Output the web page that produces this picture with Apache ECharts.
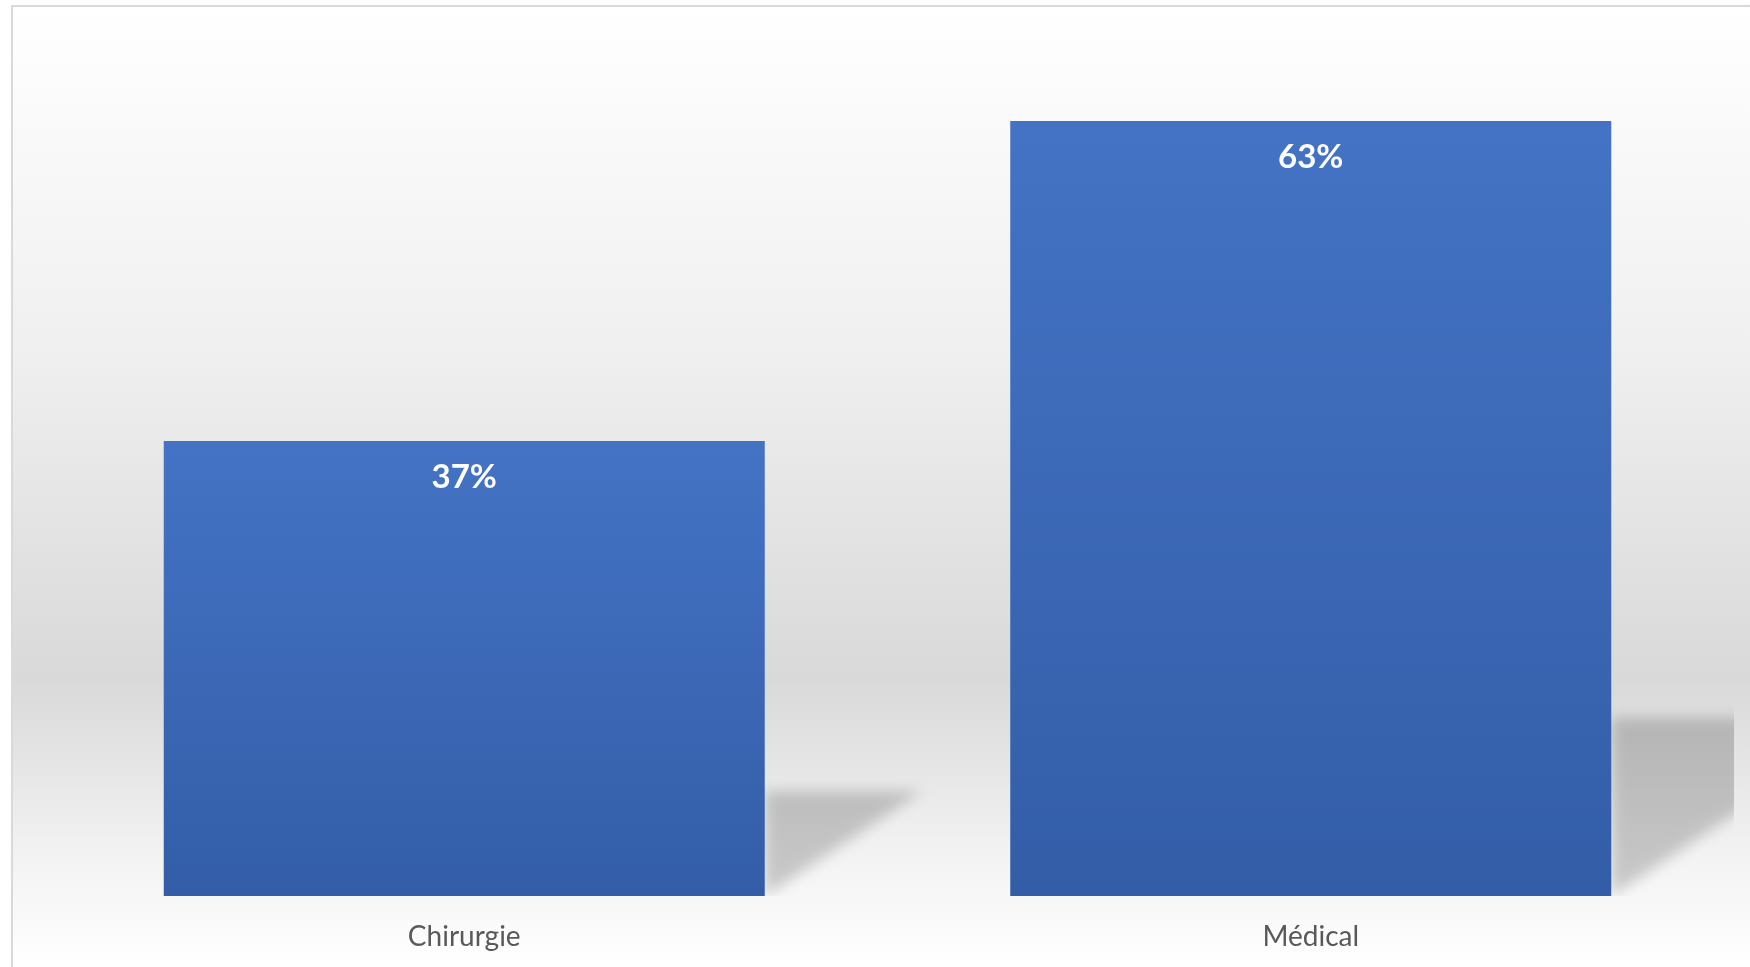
<!DOCTYPE html>
<html>
<head>
<meta charset="utf-8">
<script src="https://cdn.jsdelivr.net/npm/echarts@6/dist/echarts.min.js"></script>
<style>
  html, body { margin: 0; padding: 0; background: #fff; }
  #chart {
    position: absolute;
    left: 11px;
    top: 5px;
    width: 1737px;
    height: 960px;
    border-left: 2px solid #d9d9d9;
    border-top: 2px solid #d9d9d9;
  }
</style>
</head>
<body>
<div id="chart"></div>
<script>
// données
const categories = ['Chirurgie', 'Médical'];
const values = [37, 63];

const chart = echarts.init(document.getElementById('chart'));

const BAR_WIDTH = 0.71;   // part de la bande
const SHADOW_H = 0.23;    // hauteur de l'ombre / hauteur de la barre
const SHADOW_SLANT = 1.5; // pente de l'ombre

// ombre portée "au sol" derrière chaque barre
function renderShadow(params, api) {
  const idx = api.value(0);
  const base = api.coord([idx, 0]);
  const top = api.coord([idx, api.value(1)]);
  const half = api.size([1, 0])[0] * BAR_WIDTH / 2;
  const r = base[0] + half;
  const b = base[1];
  const s = (b - top[1]) * SHADOW_H;
  const off = 4000;
  return {
    type: 'polygon',
    shape: {
      points: [[r - off, b], [r - off, b - s], [r + SHADOW_SLANT * s - off, b - s]]
    },
    style: {
      fill: '#000',
      shadowColor: 'rgba(0,0,0,0.19)',
      shadowBlur: 14,
      shadowOffsetX: off
    }
  };
}

const option = {
  backgroundColor: new echarts.graphic.LinearGradient(0, 0, 0, 1, [
    { offset: 0, color: '#ffffff' },
    { offset: 0.35, color: '#f0f0f0' },
    { offset: 0.7, color: '#d9d9d9' },
    { offset: 0.88, color: '#f2f2f2' },
    { offset: 1, color: '#ffffff' }
  ]),
  animation: false,
  grid: {
    left: 28,
    right: 16,
    top: 28,
    bottom: 71
  },
  xAxis: {
    type: 'category',
    data: categories,
    axisLine: { show: false },
    axisTick: { show: false },
    axisLabel: {
      margin: 27,
      fontFamily: 'Lato',
      fontSize: 28,
      color: '#595959'
    }
  },
  yAxis: {
    type: 'value',
    min: 0,
    max: 70,
    show: false,
    splitLine: { show: false }
  },
  series: [
    {
      type: 'custom',
      renderItem: renderShadow,
      data: values.map((v, i) => [i, v]),
      z: 1,
      clip: true,
      silent: true
    },
    {
      type: 'bar',
      data: values,
      barWidth: (BAR_WIDTH * 100) + '%',
      z: 3,
      itemStyle: {
        color: new echarts.graphic.LinearGradient(0, 0, 0, 1, [
          { offset: 0, color: '#4473c5' },
          { offset: 1, color: '#335da7' }
        ])
      },
      label: {
        show: true,
        position: 'insideTop',
        distance: 20,
        formatter: '{c}%',
        fontFamily: 'Lato',
        fontWeight: 'bold',
        fontSize: 33,
        color: '#ffffff'
      }
    }
  ]
};

chart.setOption(option);
</script>
</body>
</html>
